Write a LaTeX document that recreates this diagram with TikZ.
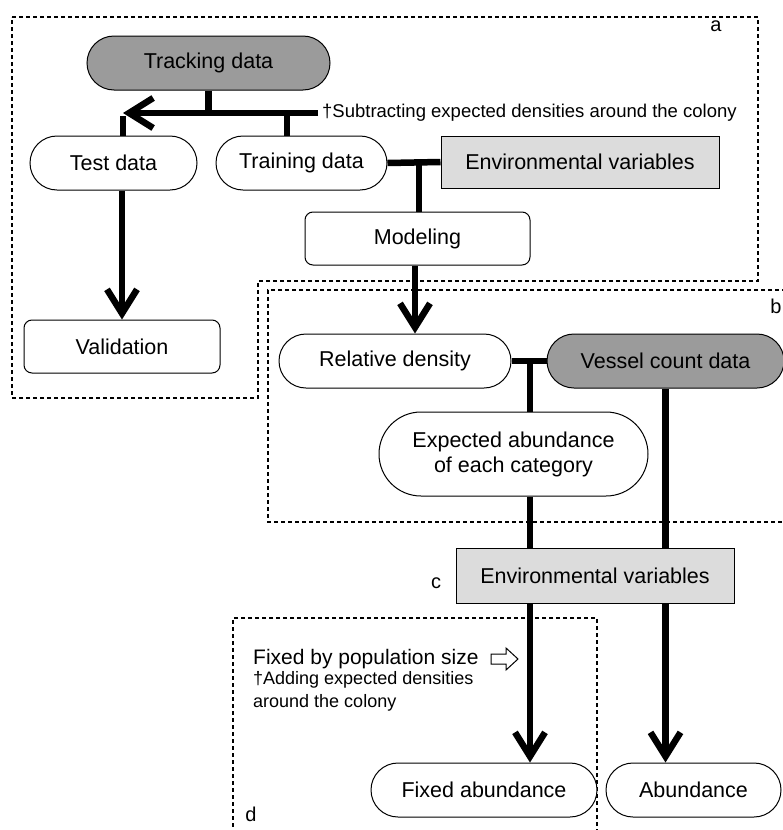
\documentclass[tikz,border=0pt]{standalone}
\usepackage{fontspec}
\setmainfont{Liberation Sans}
\usetikzlibrary{arrows.meta}
\definecolor{darkfill}{RGB}{155,155,155}
\definecolor{lightfill}{RGB}{220,220,220}
\begin{document}
\begin{tikzpicture}[x=1pt,y=-1pt,
  nodefont/.style={font=\fontsize{21.5}{25}\selectfont},
  pill/.style={draw, line width=1pt, rounded corners=27pt, minimum height=54pt, inner sep=0pt, nodefont, fill=white},
  roundbox/.style={draw, line width=1pt, rounded corners=8pt, minimum height=53pt, inner sep=0pt, nodefont, fill=white},
  envbox/.style={draw, line width=1pt, fill=lightfill, inner sep=0pt, nodefont},
  conn/.style={line width=6.5pt},
  arrow/.style={line width=6.5pt, -{Straight Barb[length=24pt,width=30pt,line width=6.5pt]}},
  region/.style={line width=1.3pt, dash pattern=on 4pt off 3pt},
  panel/.style={font=\fontsize{20}{24}\selectfont},
  note/.style={font=\fontsize{18.5}{23}\selectfont},
]
\useasboundingbox (0,0) rectangle (783,830);

% dashed regions
\draw[region] (12,17) -- (758,17) -- (758,281) -- (258,281) -- (258,398) -- (12,398) -- cycle;
\draw[region] (800,290) -- (268,290) -- (268,522) -- (800,522);
\draw[region] (597,840) -- (597,618) -- (233,618) -- (233,840);

% panel labels
\node[panel] (la) at (716,26) {a};
\node[panel] (lb) at (776,306) {b};
\node[panel] (lc) at (436,583) {c};
\node[panel] (ld) at (251,814) {d};

% nodes
\node[pill, fill=darkfill, minimum width=243pt] (track) at (208.5,63) {Tracking data};
\node[pill, minimum width=167pt] (test) at (113.5,163) {Test data};
\node[pill, minimum width=171pt] (train) at (301.5,163) {Training data};
\node[envbox, minimum width=278pt, minimum height=52pt] (env1) at (580,162) {Environmental variables};
\node[roundbox, minimum width=225pt] (model) at (417.5,238.5) {Modeling};
\node[roundbox, minimum width=196pt] (valid) at (122,346.5) {Validation};
\node[pill, minimum width=232pt] (rel) at (395,361) {Relative density};
\node[pill, fill=darkfill, minimum width=237pt] (vessel) at (665.5,361) {Vessel count data};
\node[pill, minimum width=269pt, minimum height=84pt, rounded corners=42pt, align=center] (expab) at (513.5,454) {Expected abundance\\of each category};
\node[envbox, minimum width=278pt, minimum height=55pt] (env2) at (595,575.5) {Environmental variables};
\node[pill, minimum width=226pt] (fixab) at (484,790) {Fixed abundance};
\node[pill, minimum width=175pt] (abund) at (693.5,790) {Abundance};

% notes
\node[note, anchor=west, inner sep=0pt] (sub) at (322,113) {†Subtracting expected densities around the colony};
\node[anchor=west, inner sep=0pt, font=\fontsize{21}{25}\selectfont] (fixed) at (253,659) {Fixed by population size};
\node[note, anchor=west, inner sep=0pt, align=left, font=\fontsize{18}{23}\selectfont] (add) at (253,691) {†Adding expected densities\\around the colony};
\draw[line width=1pt, fill=white] (491,654) -- (506,654) -- (506,648) -- (518,659) -- (506,670) -- (506,664) -- (491,664) -- cycle;

% coordinates
\coordinate (split) at (123,113);
\coordinate (hr) at (318,113);
\coordinate (trs) at (287,113);
\coordinate (j1) at (419,163);
\coordinate (ma) at (415,0);
\coordinate (j2) at (530,361);

% connectors panel a
\draw[conn] (track.south) -- (track.south |- hr);
\draw[conn] (trs) -- (trs |- train.north);
\draw[arrow] (hr) -- (split);
\draw[conn] ([yshift=-3.25pt]split) -- (split |- test.north);
\draw[arrow] (valid.north |- test.south) -- (valid.north);
\draw[conn] (train.east) -- (env1.west);
\draw[conn] (j1) -- (j1 |- model.north);
\draw[arrow] (ma |- model.south) -- (ma |- rel.north);

% panel b/c
\draw[conn] (rel.east) -- (vessel.west);
\draw[conn] (j2) -- (j2 |- expab.north);
\draw[conn] (j2 |- expab.south) -- (j2 |- env2.north);
\draw[conn] (vessel.south) -- (vessel.south |- env2.north);
\draw[arrow] (j2 |- env2.south) -- (j2 |- fixab.north);
\draw[arrow] (vessel.south |- env2.south) -- (vessel.south |- abund.north);
\end{tikzpicture}
\end{document}
